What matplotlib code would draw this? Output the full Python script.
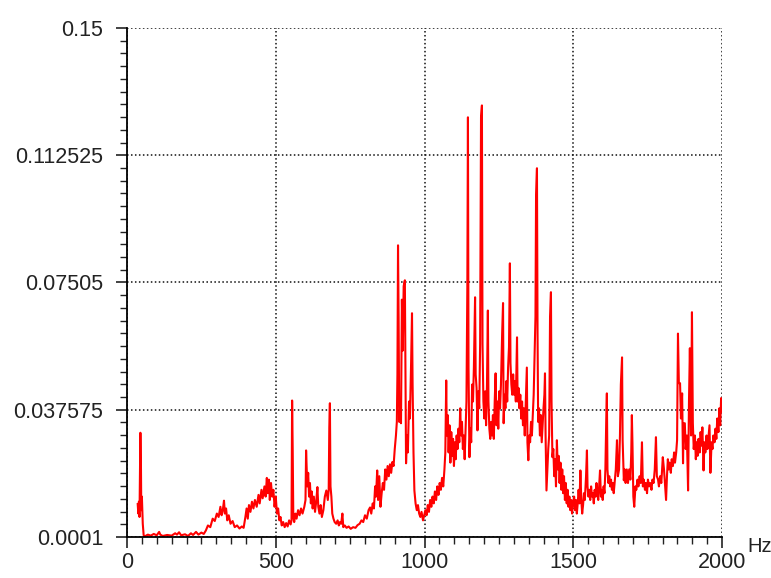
import numpy as np
import matplotlib
matplotlib.use("Agg")
import matplotlib.pyplot as plt
from matplotlib.ticker import AutoMinorLocator

# spectrum, split in four bands (Hz, amplitude)
freq_a = [36, 38, 40, 42, 45, 47, 48, 50, 53, 56, 60, 70, 80, 90, 100, 108, 112, 120, 135, 150,
          162, 168, 175, 182, 195, 205, 215, 222, 232, 240, 250, 258, 265, 272, 280, 288, 295, 302,
          308, 314, 318, 322, 326, 329, 333, 337, 342, 348, 355, 362, 370, 378, 386, 392, 398, 402,
          406, 410, 415, 420, 425, 430, 436, 442, 446, 452, 456, 462, 466, 470, 473, 477, 480, 484,
          488, 492, 496, 500, 504, 508, 512, 516, 520]
amp_a = [0.0098, 0.0070, 0.0105, 0.0060, 0.0308, 0.0200, 0.0080, 0.0120, 0.0040, 0.0006, 0.0003,
         0.0008, 0.0005, 0.0010, 0.0006, 0.0016, 0.0008, 0.0004, 0.0007, 0.0005, 0.0012, 0.0008,
         0.0015, 0.0006, 0.0009, 0.0004, 0.0012, 0.0007, 0.0016, 0.0008, 0.0014, 0.0010, 0.0020,
         0.0035, 0.0030, 0.0055, 0.0048, 0.0070, 0.0060, 0.0090, 0.0065, 0.0080, 0.0108, 0.0070,
         0.0085, 0.0050, 0.0065, 0.0040, 0.0048, 0.0030, 0.0035, 0.0026, 0.0032, 0.0028, 0.0060,
         0.0085, 0.0055, 0.0095, 0.0075, 0.0105, 0.0085, 0.0110, 0.0090, 0.0125, 0.0100, 0.0140,
         0.0115, 0.0150, 0.0120, 0.0175, 0.0130, 0.0170, 0.0110, 0.0160, 0.0120, 0.0140, 0.0090,
         0.0120, 0.0070, 0.0085, 0.0050, 0.0060, 0.0035]

freq_b = [525, 530, 535, 540, 545, 550, 553, 555, 557, 559, 562, 566, 570, 575, 580, 585, 590, 596,
          600, 602, 604, 606, 609, 612, 615, 618, 621, 624, 628, 632, 636, 640, 643, 647, 651, 655,
          660, 665, 670, 675, 678, 680, 682, 684, 687, 690, 694, 698, 703, 708, 712, 716, 720, 724,
          727, 732, 738, 745, 752, 760, 768, 775, 782, 788, 794, 800, 806, 812, 817, 821, 826, 830,
          834, 837, 841, 844, 848, 852, 856, 860, 864, 868, 872, 876, 880, 884, 888, 892, 896, 900,
          904, 907, 909, 911, 913, 915, 918, 921, 924, 927, 930, 934, 936, 938, 941, 944, 948, 951,
          955, 958, 960, 963, 966, 970, 974, 978, 982, 986, 990, 995, 999]
amp_b = [0.0045, 0.0030, 0.0042, 0.0032, 0.0050, 0.0038, 0.0050, 0.0403, 0.0256, 0.0060, 0.0045,
         0.0070, 0.0055, 0.0080, 0.0065, 0.0085, 0.0070, 0.0090, 0.0110, 0.0256, 0.0200, 0.0150,
         0.0190, 0.0120, 0.0160, 0.0100, 0.0135, 0.0085, 0.0120, 0.0075, 0.0105, 0.0148, 0.0090,
         0.0070, 0.0095, 0.0060, 0.0080, 0.0120, 0.0138, 0.0110, 0.0140, 0.0324, 0.0395, 0.0150,
         0.0120, 0.0070, 0.0055, 0.0045, 0.0040, 0.0050, 0.0035, 0.0045, 0.0040, 0.0070, 0.0030,
         0.0035, 0.0028, 0.0032, 0.0025, 0.0030, 0.0028, 0.0036, 0.0040, 0.0050, 0.0045, 0.0065,
         0.0055, 0.0080, 0.0088, 0.0070, 0.0100, 0.0085, 0.0150, 0.0120, 0.0197, 0.0110, 0.0180,
         0.0090, 0.0130, 0.0160, 0.0140, 0.0200, 0.0170, 0.0210, 0.0180, 0.0215, 0.0190, 0.0222,
         0.0210, 0.0260, 0.0300, 0.0340, 0.0480, 0.0860, 0.0648, 0.0340, 0.0380, 0.0336, 0.0700,
         0.0550, 0.0740, 0.0757, 0.0500, 0.0218, 0.0300, 0.0250, 0.0400, 0.0350, 0.0515, 0.0660,
         0.0450, 0.0250, 0.0138, 0.0100, 0.0080, 0.0095, 0.0070, 0.0060, 0.0075, 0.0050, 0.0065]

freq_c = [1003, 1007, 1011, 1015, 1019, 1023, 1027, 1031, 1035, 1039, 1043, 1047, 1051, 1055, 1059,
          1063, 1067, 1070, 1073, 1075, 1078, 1081, 1084, 1087, 1090, 1093, 1096, 1099, 1102, 1105,
          1108, 1111, 1114, 1117, 1120, 1123, 1126, 1129, 1132, 1135, 1138, 1141, 1144, 1146, 1148,
          1151, 1154, 1157, 1160, 1163, 1166, 1170, 1172, 1175, 1178, 1181, 1184, 1187, 1190, 1193,
          1195, 1198, 1201, 1204, 1207, 1210, 1213, 1215, 1218, 1221, 1224, 1227, 1230, 1233, 1236,
          1239, 1242, 1245, 1248, 1251, 1254, 1257, 1261, 1264, 1266, 1269, 1272, 1275, 1278, 1281,
          1284, 1287, 1289, 1292, 1295, 1298, 1301, 1304, 1307, 1311, 1313, 1316, 1319, 1322, 1325,
          1328, 1331, 1334, 1337, 1341, 1344, 1346, 1349, 1352, 1355, 1358, 1361, 1364, 1367, 1370,
          1373, 1375, 1378, 1380, 1382, 1385, 1388, 1391, 1394, 1397, 1400, 1403, 1405, 1407, 1410,
          1413, 1416, 1419, 1422, 1425, 1427, 1430, 1433, 1436, 1439, 1442, 1445, 1448, 1451, 1454,
          1457, 1460, 1463, 1466, 1469, 1472, 1475, 1478, 1481, 1484, 1487, 1490, 1493, 1496, 1499]
amp_c = [0.0080, 0.0065, 0.0095, 0.0075, 0.0110, 0.0090, 0.0120, 0.0100, 0.0135, 0.0110, 0.0150,
         0.0125, 0.0160, 0.0140, 0.0175, 0.0150, 0.0200, 0.0250, 0.0462, 0.0300, 0.0360, 0.0250,
         0.0330, 0.0220, 0.0310, 0.0240, 0.0290, 0.0210, 0.0280, 0.0230, 0.0300, 0.0260, 0.0320,
         0.0280, 0.0380, 0.0300, 0.0340, 0.0260, 0.0300, 0.0230, 0.0320, 0.0400, 0.0736, 0.1237,
         0.0500, 0.0236, 0.0320, 0.0280, 0.0450, 0.0400, 0.0500, 0.0707, 0.0480, 0.0440, 0.0315,
         0.0430, 0.0380, 0.0570, 0.1237, 0.1272, 0.0570, 0.0400, 0.0350, 0.0430, 0.0330, 0.0450,
         0.0668, 0.0400, 0.0320, 0.0290, 0.0340, 0.0300, 0.0360, 0.0290, 0.0400, 0.0483, 0.0330,
         0.0400, 0.0320, 0.0430, 0.0380, 0.0450, 0.0600, 0.0690, 0.0336, 0.0420, 0.0380, 0.0460,
         0.0400, 0.0500, 0.0560, 0.0807, 0.0513, 0.0450, 0.0420, 0.0480, 0.0420, 0.0460, 0.0400,
         0.0589, 0.0400, 0.0440, 0.0380, 0.0420, 0.0350, 0.0400, 0.0330, 0.0380, 0.0300, 0.0420,
         0.0500, 0.0280, 0.0227, 0.0300, 0.0280, 0.0340, 0.0300, 0.0360, 0.0420, 0.0540, 0.0650,
         0.1010, 0.1087, 0.0600, 0.0340, 0.0380, 0.0300, 0.0360, 0.0280, 0.0330, 0.0380, 0.0420,
         0.0483, 0.0300, 0.0138, 0.0200, 0.0260, 0.0300, 0.0650, 0.0722, 0.0400, 0.0236, 0.0260,
         0.0180, 0.0230, 0.0150, 0.0286, 0.0200, 0.0240, 0.0160, 0.0220, 0.0140, 0.0200, 0.0130,
         0.0180, 0.0110, 0.0160, 0.0100, 0.0140, 0.0090, 0.0120, 0.0080, 0.0110, 0.0070, 0.0100]

freq_d = [1503, 1506, 1509, 1512, 1515, 1518, 1521, 1524, 1527, 1530,
          1533, 1536, 1539, 1543, 1546, 1548, 1551, 1554, 1557, 1560,
          1563, 1566, 1569, 1572, 1575, 1578, 1581, 1584, 1587, 1590,
          1593, 1596, 1599, 1602, 1605, 1608, 1611, 1613, 1615, 1618,
          1621, 1624, 1627, 1630, 1633, 1636, 1639, 1643, 1647, 1650,
          1654, 1657, 1660, 1664, 1666, 1670, 1673, 1676, 1680, 1684,
          1688, 1692, 1695, 1697, 1699, 1702, 1705, 1709, 1712, 1716,
          1719, 1723, 1727, 1731, 1734, 1737, 1741, 1744, 1748, 1751,
          1755, 1759, 1763, 1766, 1770, 1774, 1778, 1781, 1785, 1788,
          1792, 1796, 1801, 1805, 1809, 1812, 1815, 1818, 1821, 1824,
          1828, 1831, 1835, 1839, 1842, 1846, 1849, 1852, 1855, 1859,
          1862, 1866, 1869, 1871, 1875, 1878, 1882, 1886, 1889, 1892,
          1896, 1899, 1902, 1905, 1909, 1912, 1915, 1918, 1921, 1925,
          1928, 1931, 1934, 1938, 1941, 1944, 1948, 1951, 1954, 1958,
          1961, 1965, 1968, 1971, 1975, 1978, 1981, 1984, 1988, 1991,
          1994, 1997, 2000]
amp_d = [0.0120, 0.0080, 0.0110, 0.0070, 0.0100, 0.0140, 0.0100, 0.0197, 0.0110, 0.0070,
         0.0095, 0.0130, 0.0110, 0.0180, 0.0256, 0.0150, 0.0120, 0.0140, 0.0110, 0.0150,
         0.0120, 0.0130, 0.0100, 0.0140, 0.0120, 0.0160, 0.0130, 0.0110, 0.0150, 0.0197,
         0.0120, 0.0140, 0.0110, 0.0150, 0.0130, 0.0200, 0.0350, 0.0424, 0.0200, 0.0160,
         0.0180, 0.0150, 0.0170, 0.0140, 0.0160, 0.0130, 0.0160, 0.0200, 0.0286, 0.0180,
         0.0200, 0.0300, 0.0450, 0.0530, 0.0286, 0.0168, 0.0200, 0.0160, 0.0200, 0.0160,
         0.0200, 0.0170, 0.0250, 0.0360, 0.0277, 0.0120, 0.0090, 0.0150, 0.0140, 0.0170,
         0.0150, 0.0180, 0.0160, 0.0280, 0.0150, 0.0170, 0.0140, 0.0160, 0.0130, 0.0170,
         0.0150, 0.0160, 0.0140, 0.0170, 0.0160, 0.0200, 0.0295, 0.0180, 0.0170, 0.0150,
         0.0180, 0.0160, 0.0236, 0.0200, 0.0150, 0.0110, 0.0180, 0.0230, 0.0200, 0.0220,
         0.0190, 0.0230, 0.0210, 0.0250, 0.0220, 0.0250, 0.0286, 0.0600, 0.0454, 0.0454,
         0.0350, 0.0424, 0.0218, 0.0336, 0.0336, 0.0260, 0.0300, 0.0138, 0.0400, 0.0557,
         0.0300, 0.0663, 0.0336, 0.0260, 0.0300, 0.0230, 0.0280, 0.0240, 0.0290, 0.0250,
         0.0310, 0.0270, 0.0324, 0.0197, 0.0280, 0.0250, 0.0300, 0.0260, 0.0290, 0.0330,
         0.0190, 0.0280, 0.0260, 0.0300, 0.0280, 0.0320, 0.0290, 0.0350, 0.0310, 0.0380,
         0.0330, 0.0410, 0.0370]

ytick_vals = [0.0001, 0.037575, 0.07505, 0.112525, 0.15]
ytick_labels = ["0.0001", "0.037575", "0.07505", "0.112525", "0.15"]
xtick_vals = [0, 500, 1000, 1500, 2000]

freq = np.array(freq_a + freq_b + freq_c + freq_d)
amp = np.array(amp_a + amp_b + amp_c + amp_d)

plt.rcParams['font.family'] = ['Liberation Sans', 'DejaVu Sans']

fig = plt.figure(figsize=(7.71, 5.78), dpi=100)
ax = fig.add_axes([127 / 771, 41 / 578, 595 / 771, 509 / 578])

ax.plot(freq, amp, color='#ff0000', lw=1.5)

ax.set_xlim(0, 2000)
ax.set_ylim(0.0001, 0.15)
ax.set_xticks(xtick_vals)
ax.set_yticks(ytick_vals)
ax.set_yticklabels(ytick_labels)
ax.xaxis.set_minor_locator(AutoMinorLocator(10))
ax.yaxis.set_minor_locator(AutoMinorLocator(10))
ax.tick_params(which='major', direction='out', length=8, width=1.2, labelsize=15.5, colors='#222222')
ax.tick_params(axis='x', which='major', pad=3)
ax.tick_params(axis='y', which='major', pad=9)
ax.tick_params(which='minor', direction='out', length=5, width=1.0, color='#222222')

ax.grid(True, which='major', color='#111111', linestyle=(0, (1, 1.6)), linewidth=1.1)
ax.spines['top'].set_visible(False)
ax.spines['right'].set_visible(False)
ax.spines['left'].set_linewidth(1.3)
ax.spines['bottom'].set_linewidth(1.3)

# unit label sits just right of the axis end, above the tick labels
fig.text(747 / 771, 26 / 578, "Hz", fontsize=14.5, color='#222222', va='baseline', ha='left')

fig.savefig("out.png", dpi=100)
